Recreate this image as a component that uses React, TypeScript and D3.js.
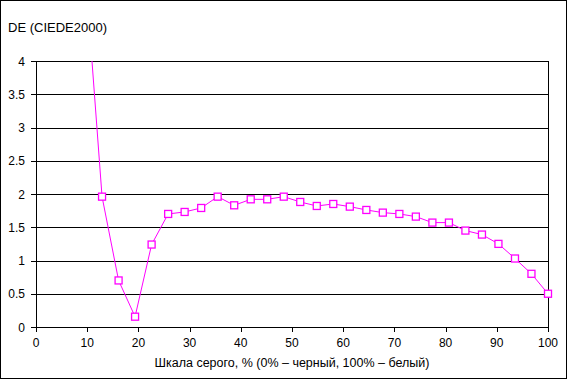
import React from "react";
import * as d3 from "d3";

const xValues = [9.68, 12.9, 16.13, 19.35, 22.58, 25.81, 29.03, 32.26, 35.48, 38.71, 41.94, 45.16, 48.39, 51.61, 54.84, 58.06, 61.29, 64.52, 67.74, 70.97, 74.19, 77.42, 80.65, 83.87, 87.1, 90.32, 93.55, 96.77, 100];
const deValues = [5.3, 1.96, 0.7, 0.155, 1.24, 1.7, 1.73, 1.79, 1.96, 1.83, 1.92, 1.92, 1.96, 1.88, 1.82, 1.85, 1.81, 1.76, 1.72, 1.7, 1.66, 1.57, 1.57, 1.45, 1.39, 1.25, 1.03, 0.8, 0.5];
const xTicks = [0, 10, 20, 30, 40, 50, 60, 70, 80, 90, 100];
const yTicks = [0, 0.5, 1, 1.5, 2, 2.5, 3, 3.5, 4];
const yTitle = "DE (CIEDE2000)";
const xTitle = "Шкала серого, % (0% – черный, 100% – белый)";

const W = 567, H = 379;
const L = 36, R = 548, T = 61, B = 327;
const FONT = "'Liberation Sans', Arial, sans-serif";
const MAG = "#FF00FF";

export default function App() {
  const x = d3.scaleLinear().domain([0, 100]).range([L, R]);
  const y = d3.scaleLinear().domain([0, 4]).range([B, T]);
  const pts = xValues.map((v, i) => [v, deValues[i]] as [number, number]);
  const line = d3.line<[number, number]>().x(d => x(d[0])).y(d => y(d[1]));
  const ms = 7;
  return (
    <svg width={W} height={H} style={{ position: "absolute", left: 0, top: 0, background: "#fff" }} fontFamily={FONT}>
      <defs>
        <clipPath id="plot">
          <rect x={L} y={T} width={R - L} height={B - T} />
        </clipPath>
      </defs>
      <rect x={0.5} y={0.5} width={W - 1} height={H - 1} fill="#fff" stroke="#000" />
      {yTicks.map(t => (
        <g key={"y" + t}>
          <line x1={L} x2={R} y1={Math.round(y(t)) + 0.5} y2={Math.round(y(t)) + 0.5} stroke="#000" />
          <line x1={L - 5} x2={L} y1={Math.round(y(t)) + 0.5} y2={Math.round(y(t)) + 0.5} stroke="#000" />
          <text x={L - 11} y={y(t) + 4.5} textAnchor="end" fontSize={12} fill="#000">{String(t)}</text>
        </g>
      ))}
      <line x1={L + 0.5} x2={L + 0.5} y1={T} y2={B + 1} stroke="#000" />
      <line x1={R + 0.5} x2={R + 0.5} y1={T} y2={B + 1} stroke="#000" />
      {xTicks.map(t => (
        <g key={"x" + t}>
          <line x1={Math.round(x(t)) + 0.5} x2={Math.round(x(t)) + 0.5} y1={B} y2={B + 5} stroke="#000" />
          <text x={x(t)} y={B + 20} textAnchor="middle" fontSize={12} fill="#000">{String(t)}</text>
        </g>
      ))}
      <g clipPath="url(#plot)">
        <path d={line(pts) || ""} fill="none" stroke={MAG} strokeWidth={1} />
      </g>
      {pts.filter(p => p[1] <= 4).map((p, i) => (
        <rect key={i} x={x(p[0]) - ms / 2} y={y(p[1]) - ms / 2} width={ms} height={ms} fill="#fff" stroke={MAG} strokeWidth={1.3} />
      ))}
      <text x={8} y={32} fontSize={13} fill="#000">{yTitle}</text>
      <text x={(L + R) / 2} y={367} textAnchor="middle" fontSize={12.5} fill="#000">{xTitle}</text>
    </svg>
  );
}
